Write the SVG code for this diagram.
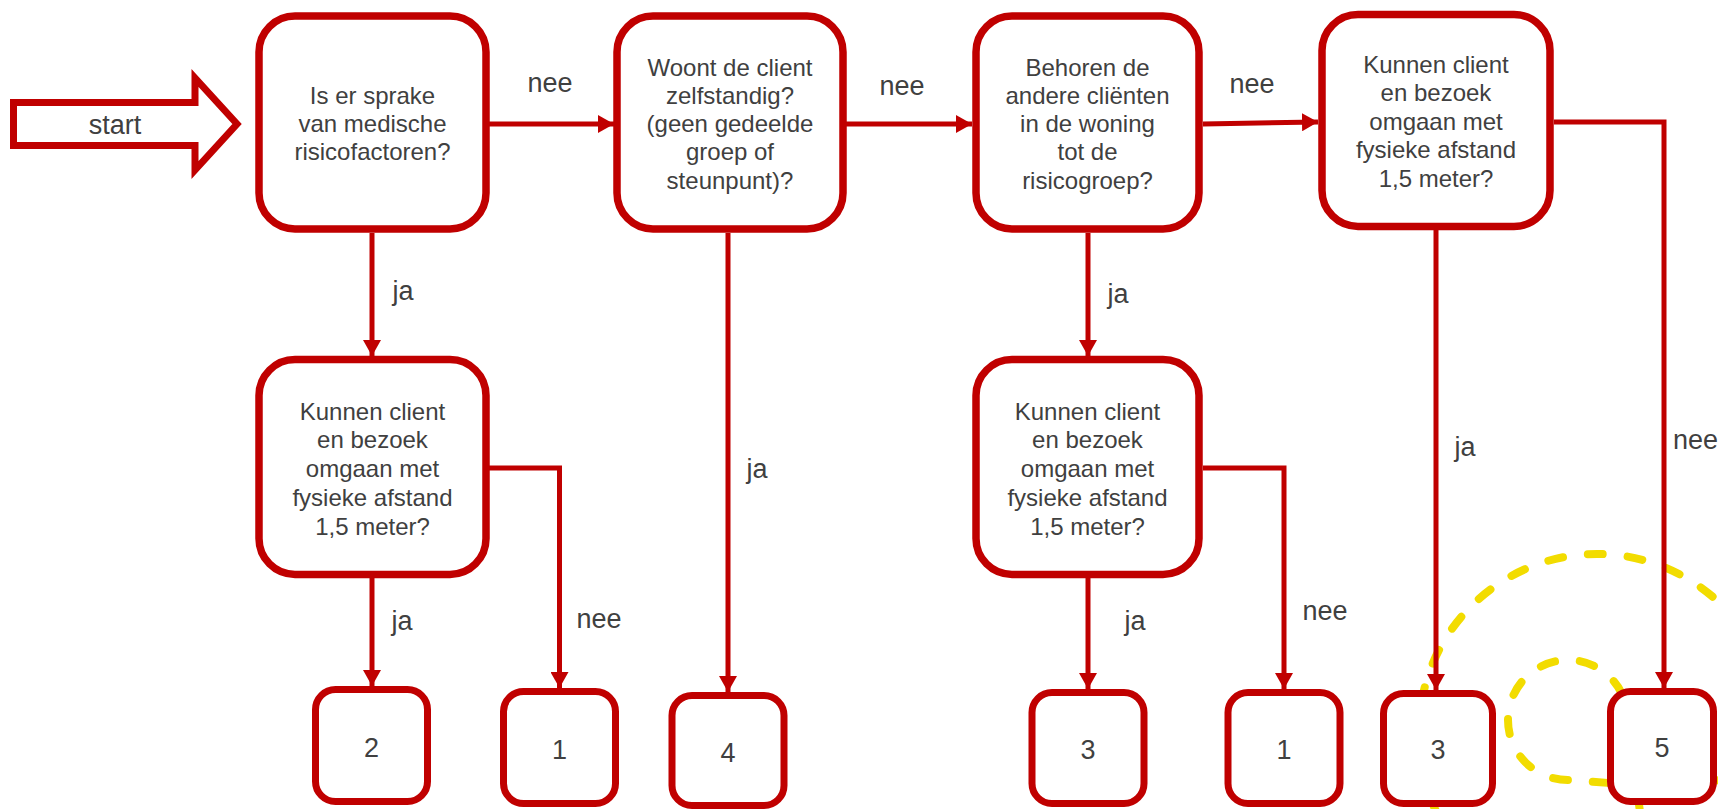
<svg xmlns="http://www.w3.org/2000/svg" width="1718" height="809" viewBox="0 0 1718 809">
<defs>
<style>
.box{fill:#fff;stroke:#C00000;stroke-width:7.5}
.sbox{fill:#fff;stroke:#C00000;stroke-width:7}
.con{fill:none;stroke:#C00000;stroke-width:5;marker-end:url(#ah)}
.t{font-family:"Liberation Sans",Arial,sans-serif;font-size:24px;fill:#404040;text-anchor:middle}
.lbl{font-family:"Liberation Sans",Arial,sans-serif;font-size:27px;fill:#404040}
.num{font-family:"Liberation Sans",Arial,sans-serif;font-size:27px;fill:#404040;text-anchor:middle}
</style>
<marker id="ah" markerUnits="userSpaceOnUse" markerWidth="16" markerHeight="18" refX="16" refY="9" orient="auto">
<path d="M0,0 L16,9 L0,18 z" fill="#C00000"/>
</marker>
</defs>
<rect width="1718" height="809" fill="#fff"/>

<g id="swirl">
<path d="M1640,812 L1628,720 A60,60 0 0 0 1568,660 A60,60 0 0 0 1508,720 A60,60 0 0 0 1568,780 C1640,785 1770,800 1775,732 A178,178 0 0 0 1597,554 A178,178 0 0 0 1419,732 A178,178 0 0 0 1470,860" fill="none" stroke="#F2DC00" stroke-width="8" stroke-linecap="round" stroke-dasharray="15 25"/>
</g>

<g id="connectors">
<path class="con" d="M489,124 H614"/>
<path class="con" d="M846,124 H972"/>
<path class="con" d="M1203,124 L1318,122"/>
<path class="con" d="M1554,122 H1664 V688"/>
<path class="con" d="M1436,230 V690"/>
<path class="con" d="M372,233 V356"/>
<path class="con" d="M728,233 V692"/>
<path class="con" d="M1088,233 V356"/>
<path class="con" d="M372,578 V686"/>
<path class="con" d="M489,468 H559.5 V688"/>
<path class="con" d="M1088,578 V689"/>
<path class="con" d="M1203,468 H1284 V689"/>
<text class="lbl" x="550" y="92" text-anchor="middle">nee</text>
<text class="lbl" x="902" y="95" text-anchor="middle">nee</text>
<text class="lbl" x="1252" y="93" text-anchor="middle">nee</text>
<text class="lbl" x="1673" y="449">nee</text>
<text class="lbl" x="403" y="300" text-anchor="middle">ja</text>
<text class="lbl" x="757" y="478" text-anchor="middle">ja</text>
<text class="lbl" x="1118" y="303" text-anchor="middle">ja</text>
<text class="lbl" x="1465" y="456" text-anchor="middle">ja</text>
<text class="lbl" x="402" y="630" text-anchor="middle">ja</text>
<text class="lbl" x="599" y="628" text-anchor="middle">nee</text>
<text class="lbl" x="1135" y="630" text-anchor="middle">ja</text>
<text class="lbl" x="1325" y="620" text-anchor="middle">nee</text>
</g>

<g id="start">
<path d="M13.5,102.5 H195 V78 L237,124 L195,170 V145.5 H13.5 Z" fill="#fff" stroke="#C00000" stroke-width="7"/>
<text class="lbl" x="115" y="134" text-anchor="middle">start</text>
</g>

<g id="q1">
<rect class="box" x="259" y="16" width="227" height="213" rx="36"/>
<text class="t" x="372.5"><tspan x="372.5" y="104">Is er sprake</tspan><tspan x="372.5" y="132">van medische</tspan><tspan x="372.5" y="160">risicofactoren?</tspan></text>
</g>
<g id="q2">
<rect class="box" x="617" y="16" width="226" height="213" rx="36"/>
<text class="t"><tspan x="730" y="76">Woont de client</tspan><tspan x="730" y="104">zelfstandig?</tspan><tspan x="730" y="132">(geen gedeelde</tspan><tspan x="730" y="160">groep of</tspan><tspan x="730" y="189">steunpunt)?</tspan></text>
</g>
<g id="q3">
<rect class="box" x="976" y="16" width="223" height="213" rx="36"/>
<text class="t"><tspan x="1087.5" y="76">Behoren de</tspan><tspan x="1087.5" y="104">andere cliënten</tspan><tspan x="1087.5" y="132">in de woning</tspan><tspan x="1087.5" y="160">tot de</tspan><tspan x="1087.5" y="189">risicogroep?</tspan></text>
</g>
<g id="q4">
<rect class="box" x="1322" y="14.5" width="228" height="212" rx="36"/>
<text class="t"><tspan x="1436" y="73">Kunnen client</tspan><tspan x="1436" y="101">en bezoek</tspan><tspan x="1436" y="130">omgaan met</tspan><tspan x="1436" y="158">fysieke afstand</tspan><tspan x="1436" y="187">1,5 meter?</tspan></text>
</g>
<g id="q5">
<rect class="box" x="259" y="359.5" width="227" height="215" rx="36"/>
<text class="t"><tspan x="372.5" y="420">Kunnen client</tspan><tspan x="372.5" y="448">en bezoek</tspan><tspan x="372.5" y="477">omgaan met</tspan><tspan x="372.5" y="506">fysieke afstand</tspan><tspan x="372.5" y="535">1,5 meter?</tspan></text>
</g>
<g id="q6">
<rect class="box" x="976" y="359.5" width="223" height="215" rx="36"/>
<text class="t"><tspan x="1087.5" y="420">Kunnen client</tspan><tspan x="1087.5" y="448">en bezoek</tspan><tspan x="1087.5" y="477">omgaan met</tspan><tspan x="1087.5" y="506">fysieke afstand</tspan><tspan x="1087.5" y="535">1,5 meter?</tspan></text>
</g>

<g id="r2"><rect class="sbox" x="315.5" y="689.5" width="112" height="112" rx="20"/><text class="num" x="371.5" y="757">2</text></g>
<g id="r1a"><rect class="sbox" x="503.5" y="691.5" width="112" height="112" rx="20"/><text class="num" x="559.5" y="759">1</text></g>
<g id="r4"><rect class="sbox" x="672" y="695.5" width="112" height="110" rx="20"/><text class="num" x="728" y="762">4</text></g>
<g id="r3a"><rect class="sbox" x="1032" y="692.5" width="112" height="111" rx="20"/><text class="num" x="1088" y="759">3</text></g>
<g id="r1b"><rect class="sbox" x="1228" y="692.5" width="112" height="111" rx="20"/><text class="num" x="1284" y="759">1</text></g>
<g id="r3b"><rect class="sbox" x="1383.5" y="693.5" width="109" height="110" rx="20"/><text class="num" x="1438" y="759">3</text></g>
<g id="r5"><rect class="sbox" x="1610.5" y="691.5" width="103" height="110" rx="20"/><text class="num" x="1662" y="757">5</text></g>
</svg>
